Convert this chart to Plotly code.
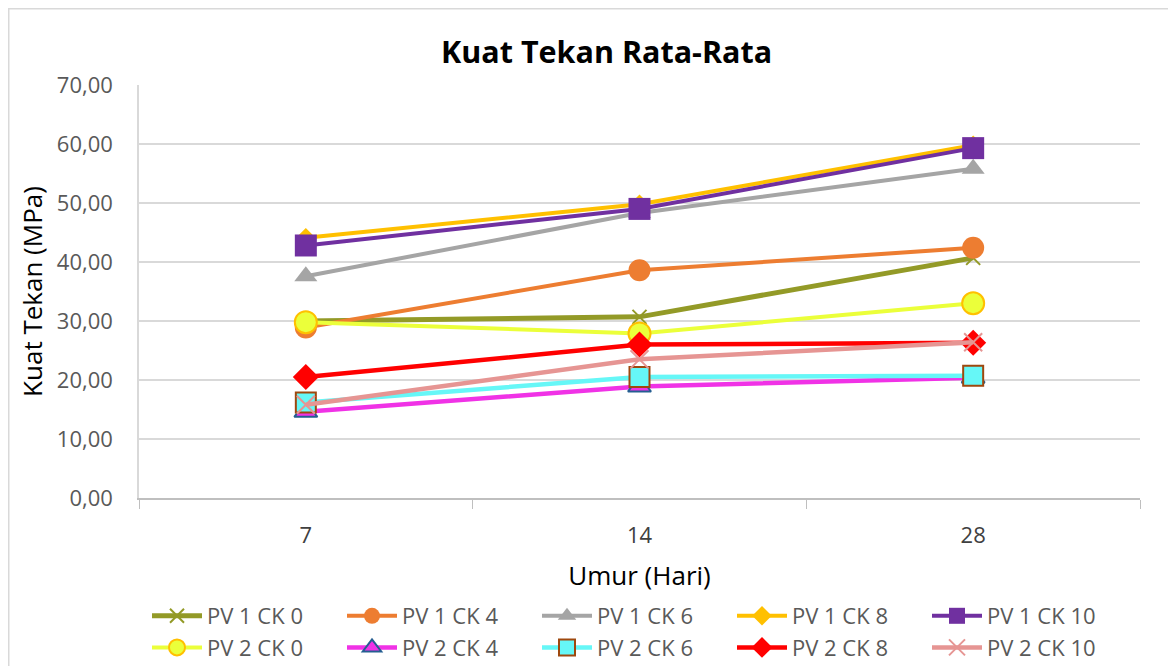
import plotly.graph_objects as go

days = ["7", "14", "28"]
series_names = ["PV 1 CK 0", "PV 1 CK 4", "PV 1 CK 6", "PV 1 CK 8", "PV 1 CK 10",
                "PV 2 CK 0", "PV 2 CK 4", "PV 2 CK 6", "PV 2 CK 8", "PV 2 CK 10"]
pv1_ck0 = [30.0, 30.7, 40.7]
pv1_ck4 = [28.9, 38.6, 42.4]
pv1_ck6 = [37.6, 48.3, 55.8]
pv1_ck8 = [44.1, 49.8, 59.8]
pv1_ck10 = [42.8, 49.0, 59.3]
pv2_ck0 = [29.8, 27.9, 33.0]
pv2_ck4 = [14.6, 18.9, 20.4]
pv2_ck6 = [16.2, 20.5, 20.7]
pv2_ck8 = [20.5, 26.0, 26.3]
pv2_ck10 = [15.8, 23.5, 26.4]
values = [pv1_ck0, pv1_ck4, pv1_ck6, pv1_ck8, pv1_ck10,
          pv2_ck0, pv2_ck4, pv2_ck6, pv2_ck8, pv2_ck10]

styles = [
    dict(color="#939A27", width=5, symbol="x-thin-open", size=14, fill="#939A27", lc="#939A27", lw=2),
    dict(color="#ED7D31", width=4, symbol="circle", size=22, fill="#ED7D31", lc="#ED7D31", lw=0),
    dict(color="#A5A5A5", width=4, symbol="triangle-up", size=20, fill="#A5A5A5", lc="#A5A5A5", lw=0),
    dict(color="#FFC000", width=4, symbol="diamond", size=15, fill="#FFC000", lc="#FFC000", lw=0),
    dict(color="#7030A0", width=4, symbol="square", size=22, fill="#7030A0", lc="#7030A0", lw=0),
    dict(color="#EBFF3A", width=4, symbol="circle", size=22, fill="#EBFF3A", lc="#FFC000", lw=2),
    dict(color="#F032E6", width=4.5, symbol="triangle-up", size=20, fill="#F032E6", lc="#255E91", lw=2),
    dict(color="#66F7F7", width=4.5, symbol="square", size=20, fill="#66F7F7", lc="#9E480E", lw=2),
    dict(color="#FF0000", width=4.5, symbol="diamond", size=20, fill="#FF0000", lc="#FF0000", lw=0),
    dict(color="#E69593", width=4.5, symbol="x-thin-open", size=18, fill="#E69593", lc="#E69593", lw=2),
]

fig = go.Figure()
for name, vals, st in zip(series_names, values, styles):
    fig.add_trace(go.Scatter(
        x=days, y=vals, name=name, mode="lines+markers",
        line=dict(color=st["color"], width=st["width"]),
        marker=dict(symbol=st["symbol"], size=st["size"], color=st["fill"],
                    line=dict(color=st["lc"], width=st["lw"])),
    ))

W, H = 1176, 666
L, T, B, R = 131, 77, 176, 44
PW, PH = W - L - R, H - T - B

font_family = "'Open Sans', sans-serif"
fig.update_layout(
    width=W, height=H,
    paper_bgcolor="white", plot_bgcolor="white",
    separators=",.",
    margin=dict(l=L, r=R, t=T, b=B, autoexpand=False),
    font=dict(family=font_family, color="#595959", size=20),
    title=dict(text="<b>Kuat Tekan Rata-Rata</b>", x=0.509, xanchor="center",
               y=1 - 44 / H, yanchor="middle",
               font=dict(size=30.5, color="black", family=font_family)),
    xaxis=dict(type="category", showgrid=False, showline=True, linecolor="#BFBFBF",
               linewidth=1.5, ticks="outside", tickson="boundaries", ticklen=9,
               tickcolor="#BFBFBF", ticklabelstandoff=17,
               tickfont=dict(size=22, color="#404040"),
               title=dict(text="Umur (Hari)", font=dict(size=26, color="black"), standoff=19),
               range=[-0.5, 2.5]),
    yaxis=dict(range=[0, 70], dtick=10, tickformat=".2f", showgrid=True,
               gridcolor="#D9D9D9", gridwidth=1.5, showline=True, linecolor="#D9D9D9",
               linewidth=1.5, zeroline=False, ticks="", ticklabelstandoff=20,
               tickfont=dict(size=22, color="#595959"),
               title=dict(text="Kuat Tekan (MPa)", font=dict(size=26, color="black"), standoff=7)),
    legend=dict(orientation="h", x=8 / PW, xanchor="left", y=(T + PH - 587) / PH, yanchor="top",
                entrywidth=130, entrywidthmode="pixels", itemwidth=50,
                font=dict(size=22, color="#595959"), tracegroupgap=0),
    shapes=[dict(type="rect", xref="paper", yref="paper",
                 x0=(0.75 - L) / PW, x1=(W + 20 - L) / PW,
                 y0=(T + PH - H - 40) / PH, y1=(T + PH - 0.75) / PH,
                 line=dict(color="#D9D9D9", width=1.5), layer="below")],
)

fig.write_html("out.html")
